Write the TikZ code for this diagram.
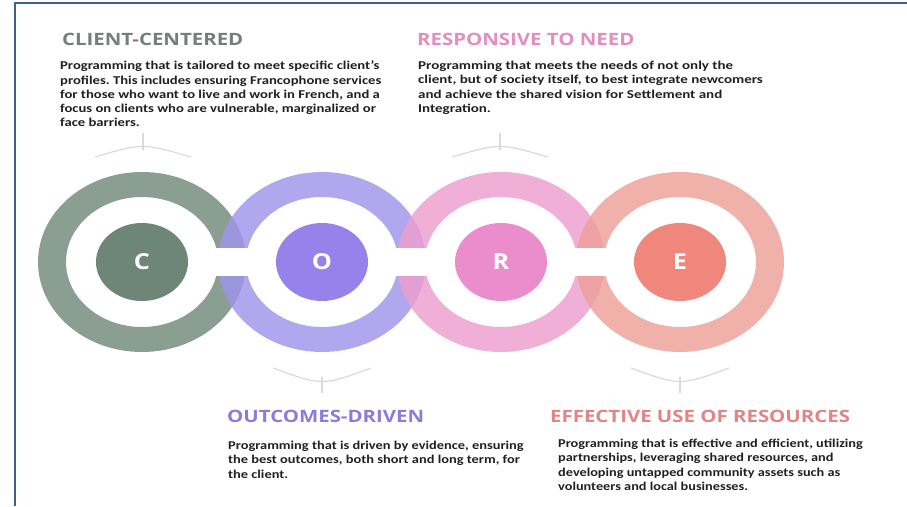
\documentclass[tikz,border=0pt]{standalone}
\usepackage{fontspec}
\setmainfont{Carlito}
\newfontfamily\headfont{Open Sans}[FakeStretch=1.2]
\newfontfamily\letterfont{Open Sans}[FakeStretch=1.15]
\usetikzlibrary{shapes.geometric, positioning}
\frenchspacing

\definecolor{framecol}{RGB}{62,96,140}
\definecolor{bodycol}{RGB}{32,32,32}
\definecolor{brackcol}{RGB}{218,218,218}
\definecolor{cring}{RGB}{112,138,122}
\definecolor{cdisk}{RGB}{110,134,120}
\definecolor{chead}{RGB}{118,126,122}
\definecolor{oring}{RGB}{160,148,236}
\definecolor{odisk}{RGB}{150,130,235}
\definecolor{ohead}{RGB}{138,124,218}
\definecolor{rring}{RGB}{236,158,206}
\definecolor{rdisk}{RGB}{235,140,205}
\definecolor{rhead}{RGB}{226,142,192}
\definecolor{ering}{RGB}{238,160,152}
\definecolor{edisk}{RGB}{240,135,125}
\definecolor{ehead}{RGB}{226,132,132}

\tikzset{
  ring/.style={fill=#1, opacity=0.82, even odd rule},
  core/.style={ellipse, fill=#1, draw=none, minimum width=92pt, minimum height=78pt,
    text=white, font=\letterfont\bfseries\fontsize{22}{26}\selectfont},
  headline/.style={anchor=base west, inner sep=0pt, text=#1,
    font=\headfont\bfseries\fontsize{17}{20}\selectfont},
  bodytext/.style={anchor=north west, inner sep=0pt, align=left, text=bodycol,
    font=\bfseries\fontsize{12}{14.2}\selectfont\addfontfeature{FakeStretch=#1}},
  bracket/.style={draw=brackcol, line width=1.2pt},
}

\begin{document}
\begin{tikzpicture}[x=1pt, y=-1pt]
  \useasboundingbox (0,0) rectangle (907,506);
  \draw[framecol, line width=2pt] (15,506) -- (15,3) -- (907,3);

  % rings
  \foreach \cx/\col in {142/cring, 322/oring, 501/rring, 680/ering}
    \fill[ring=\col] (\cx,262) ellipse [x radius=104, y radius=90]
                     (\cx,262) ellipse [x radius=76, y radius=65];
  \fill[white] (142,248) rectangle (680,276);

  \node[core=cdisk] (C) at (142,262) {C};
  \node[core=odisk] (O) at (322,262) {O};
  \node[core=rdisk] (R) at (501,262) {R};
  \node[core=edisk] (E) at (680,262) {E};

  % brackets
  \foreach \x in {143,500} {
    \draw[bracket] (\x-48,157) .. controls (\x,143) .. (\x+48,157);
    \draw[bracket] (\x,133) -- (\x,150);
  }
  \foreach \x in {322,680} {
    \draw[bracket] (\x-49,368) .. controls (\x,386) .. (\x+49,368);
    \draw[bracket] (\x,377) -- (\x,393);
  }

  \node[headline=chead] (ctitle) at (62,45) {CLIENT-CENTERED};
  \node[bodytext=1.22] (ctext) at (60,61) {Programming that is tailored to meet specific client's\\
    profiles. This includes ensuring Francophone services\\
    for those who want to live and work in French, and a\\
    focus on clients who are vulnerable, marginalized or\\
    face barriers.};

  \node[headline=rhead] (rtitle) at (417,45) {RESPONSIVE TO NEED};
  \node[bodytext=1.25] (rtext) at (418,61) {Programming that meets the needs of not only the\\
    client, but of society itself, to best integrate newcomers\\
    and achieve the shared vision for Settlement and\\
    Integration.};

  \node[headline=ohead] (otitle) at (227,422) {OUTCOMES-DRIVEN};
  \node[bodytext=1.2] (otext) at (228,441) {Programming that is driven by evidence, ensuring\\
    the best outcomes, both short and long term, for\\
    the client.};

  \node[headline=ehead] (etitle) at (550,422) {EFFECTIVE USE OF RESOURCES};
  \node[bodytext=1.19] (etext) at (558,439) {Programming that is effective and efficient, utilizing\\
    partnerships, leveraging shared resources, and\\
    developing untapped community assets such as\\
    volunteers and local businesses.};
\end{tikzpicture}
\end{document}
